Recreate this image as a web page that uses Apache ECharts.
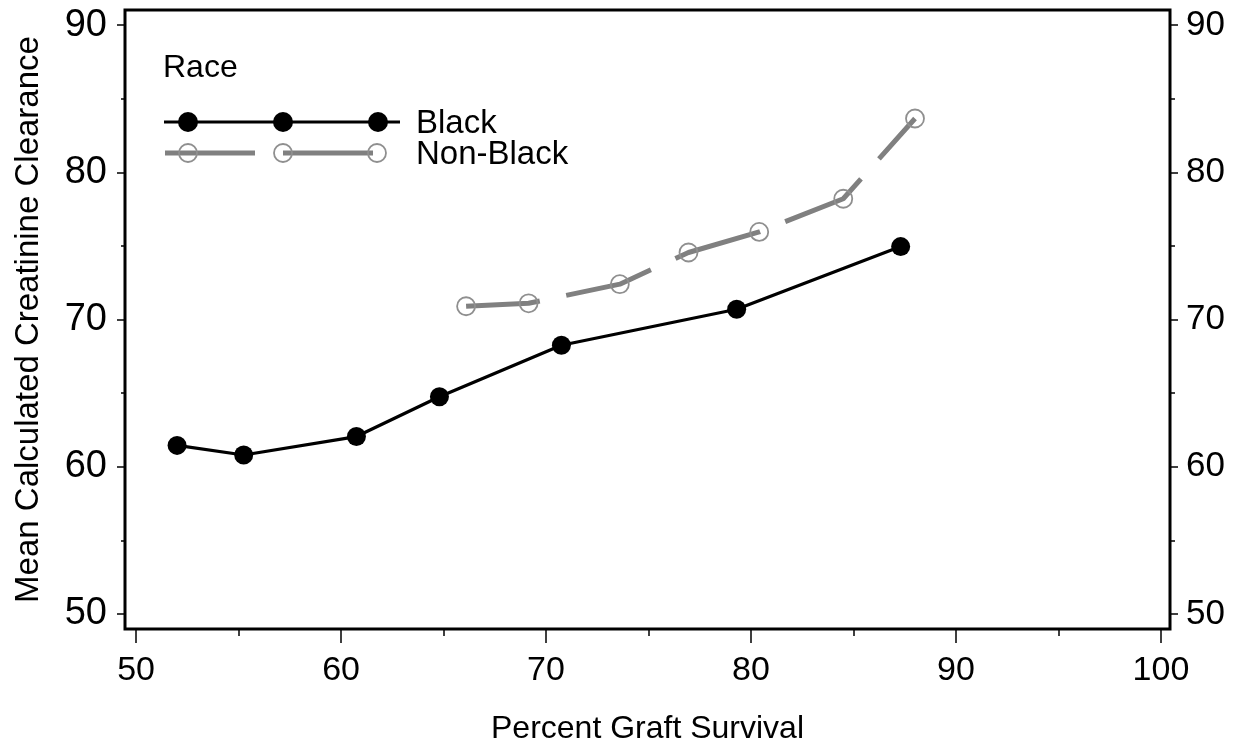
<!DOCTYPE html>
<html>
<head>
<meta charset="utf-8">
<script src="https://cdn.jsdelivr.net/npm/echarts@6/dist/echarts.min.js"></script>
<style>
  html, body { margin: 0; padding: 0; background: #fff; }
  #chart { width: 1238px; height: 744px; }
</style>
</head>
<body>
<div id="chart"></div>
<script>
// ---- data ----
const xMajorTicks = [50, 60, 70, 80, 90, 100];
const xMinorTicks = [55, 65, 75, 85, 95];
const yMajorTicks = [50, 60, 70, 80, 90];
const yMinorTicks = [55, 65, 75, 85];

const blackX = [52.0, 55.25, 60.75, 64.8, 70.75, 79.3, 87.3];
const blackY = [61.45, 60.8, 62.05, 64.75, 68.25, 70.7, 74.95];

const nonBlackX = [66.1, 69.15, 73.6, 76.95, 80.4, 84.5, 88.0];
const nonBlackY = [70.9, 71.1, 72.4, 74.55, 75.95, 78.2, 83.65];

const seriesNames = ['Black', 'Non-Black'];
const legendTitle = 'Race';
const xTitle = 'Percent Graft Survival';
const yTitle = 'Mean Calculated Creatinine Clearance';

// ---- chart ----
const FONT = '"Liberation Sans", Arial, Helvetica, sans-serif';
const X_MIN = 49.46, X_MAX = 100.44;
const Y_MIN = 48.98, Y_MAX = 91.02;
const GRAY = '#808080';
const GRAY_MARK = '#8f8f8f';

function zip(xs, ys) { return xs.map((x, i) => [x, ys[i]]); }

const chart = echarts.init(document.getElementById('chart'), null, { renderer: 'canvas' });

const baseX = { type: 'value', min: X_MIN, max: X_MAX, position: 'bottom', gridIndex: 0,
  splitLine: { show: false }, axisLine: { show: false } };
const baseY = { type: 'value', min: Y_MIN, max: Y_MAX, gridIndex: 0,
  splitLine: { show: false }, axisLine: { show: false } };

const option = {
  animation: false,
  backgroundColor: '#ffffff',
  grid: { left: 125, right: 68, top: 10, bottom: 115, show: true, containLabel: false,
    outerBoundsMode: 'none',
    borderColor: '#000', borderWidth: 3, backgroundColor: 'transparent' },
  xAxis: [
    Object.assign({}, baseX, {
      name: xTitle, nameLocation: 'middle', nameGap: 84,
      nameTextStyle: { fontFamily: FONT, fontSize: 32, color: '#000' },
      axisTick: { show: true, length: 14, customValues: xMajorTicks, lineStyle: { color: '#000', width: 1.5 } },
      axisLabel: { show: true, customValues: xMajorTicks, margin: 25, fontFamily: FONT, fontSize: 34, color: '#000' }
    }),
    Object.assign({}, baseX, {
      axisTick: { show: true, length: 7, customValues: xMinorTicks, lineStyle: { color: '#000', width: 1.5 } },
      axisLabel: { show: false }
    })
  ],
  yAxis: [
    Object.assign({}, baseY, {
      position: 'left',
      name: yTitle, nameLocation: 'middle', nameGap: 80,
      nameTextStyle: { fontFamily: FONT, fontSize: 33, color: '#000' },
      axisTick: { show: true, length: 8, customValues: yMajorTicks, lineStyle: { color: '#000', width: 1.5 } },
      axisLabel: { show: true, customValues: yMajorTicks, margin: 18, fontFamily: FONT, fontSize: 38, color: '#000' }
    }),
    Object.assign({}, baseY, {
      position: 'right',
      axisTick: { show: true, length: 8, customValues: yMajorTicks, lineStyle: { color: '#000', width: 1.5 } },
      axisLabel: { show: true, customValues: yMajorTicks, margin: 16, fontFamily: FONT, fontSize: 35, color: '#000' }
    }),
    Object.assign({}, baseY, {
      position: 'left',
      axisTick: { show: true, length: 4, customValues: yMinorTicks, lineStyle: { color: '#000', width: 1.5 } },
      axisLabel: { show: false }
    }),
    Object.assign({}, baseY, {
      position: 'right',
      axisTick: { show: true, length: 5, customValues: yMinorTicks, lineStyle: { color: '#000', width: 1.5 } },
      axisLabel: { show: false }
    })
  ],
  series: [
    {
      name: seriesNames[0], type: 'line', xAxisIndex: 0, yAxisIndex: 0,
      data: zip(blackX, blackY),
      symbol: 'circle', symbolSize: 19,
      lineStyle: { color: '#000', width: 3.2 },
      itemStyle: { color: '#000', borderWidth: 0 },
      z: 3
    },
    {
      name: seriesNames[1], type: 'line', xAxisIndex: 0, yAxisIndex: 0,
      data: zip(nonBlackX, nonBlackY),
      symbol: 'circle', symbolSize: 18,
      lineStyle: { color: GRAY, width: 5, type: [89, 27], dashOffset: 15 },
      itemStyle: { color: 'rgba(0,0,0,0)', borderColor: GRAY_MARK, borderWidth: 1.8 },
      z: 2
    }
  ],
  graphic: [
    { type: 'text', x: 163, y: 68, style: { text: legendTitle, font: '32px ' + FONT, fill: '#000', verticalAlign: 'middle' } },
    { type: 'line', shape: { x1: 164, y1: 122, x2: 400, y2: 122 }, style: { stroke: '#000', lineWidth: 3.2 } },
    { type: 'circle', shape: { cx: 188, cy: 122, r: 10 }, style: { fill: '#000' } },
    { type: 'circle', shape: { cx: 283, cy: 122, r: 10 }, style: { fill: '#000' } },
    { type: 'circle', shape: { cx: 378, cy: 122, r: 10 }, style: { fill: '#000' } },
    { type: 'line', shape: { x1: 165, y1: 153, x2: 373, y2: 153 }, style: { stroke: GRAY, lineWidth: 5, lineDash: [90, 28] } },
    { type: 'circle', shape: { cx: 188, cy: 153, r: 9 }, style: { fill: 'none', stroke: GRAY_MARK, lineWidth: 1.8 } },
    { type: 'circle', shape: { cx: 283, cy: 153, r: 9 }, style: { fill: 'none', stroke: GRAY_MARK, lineWidth: 1.8 } },
    { type: 'circle', shape: { cx: 377, cy: 153, r: 9 }, style: { fill: 'none', stroke: GRAY_MARK, lineWidth: 1.8 } },
    { type: 'text', x: 416, y: 124, style: { text: seriesNames[0], font: '33px ' + FONT, fill: '#000', verticalAlign: 'middle' } },
    { type: 'text', x: 416, y: 155, style: { text: seriesNames[1], font: '33px ' + FONT, fill: '#000', verticalAlign: 'middle' } }
  ]
};

chart.setOption(option);
</script>
</body>
</html>
